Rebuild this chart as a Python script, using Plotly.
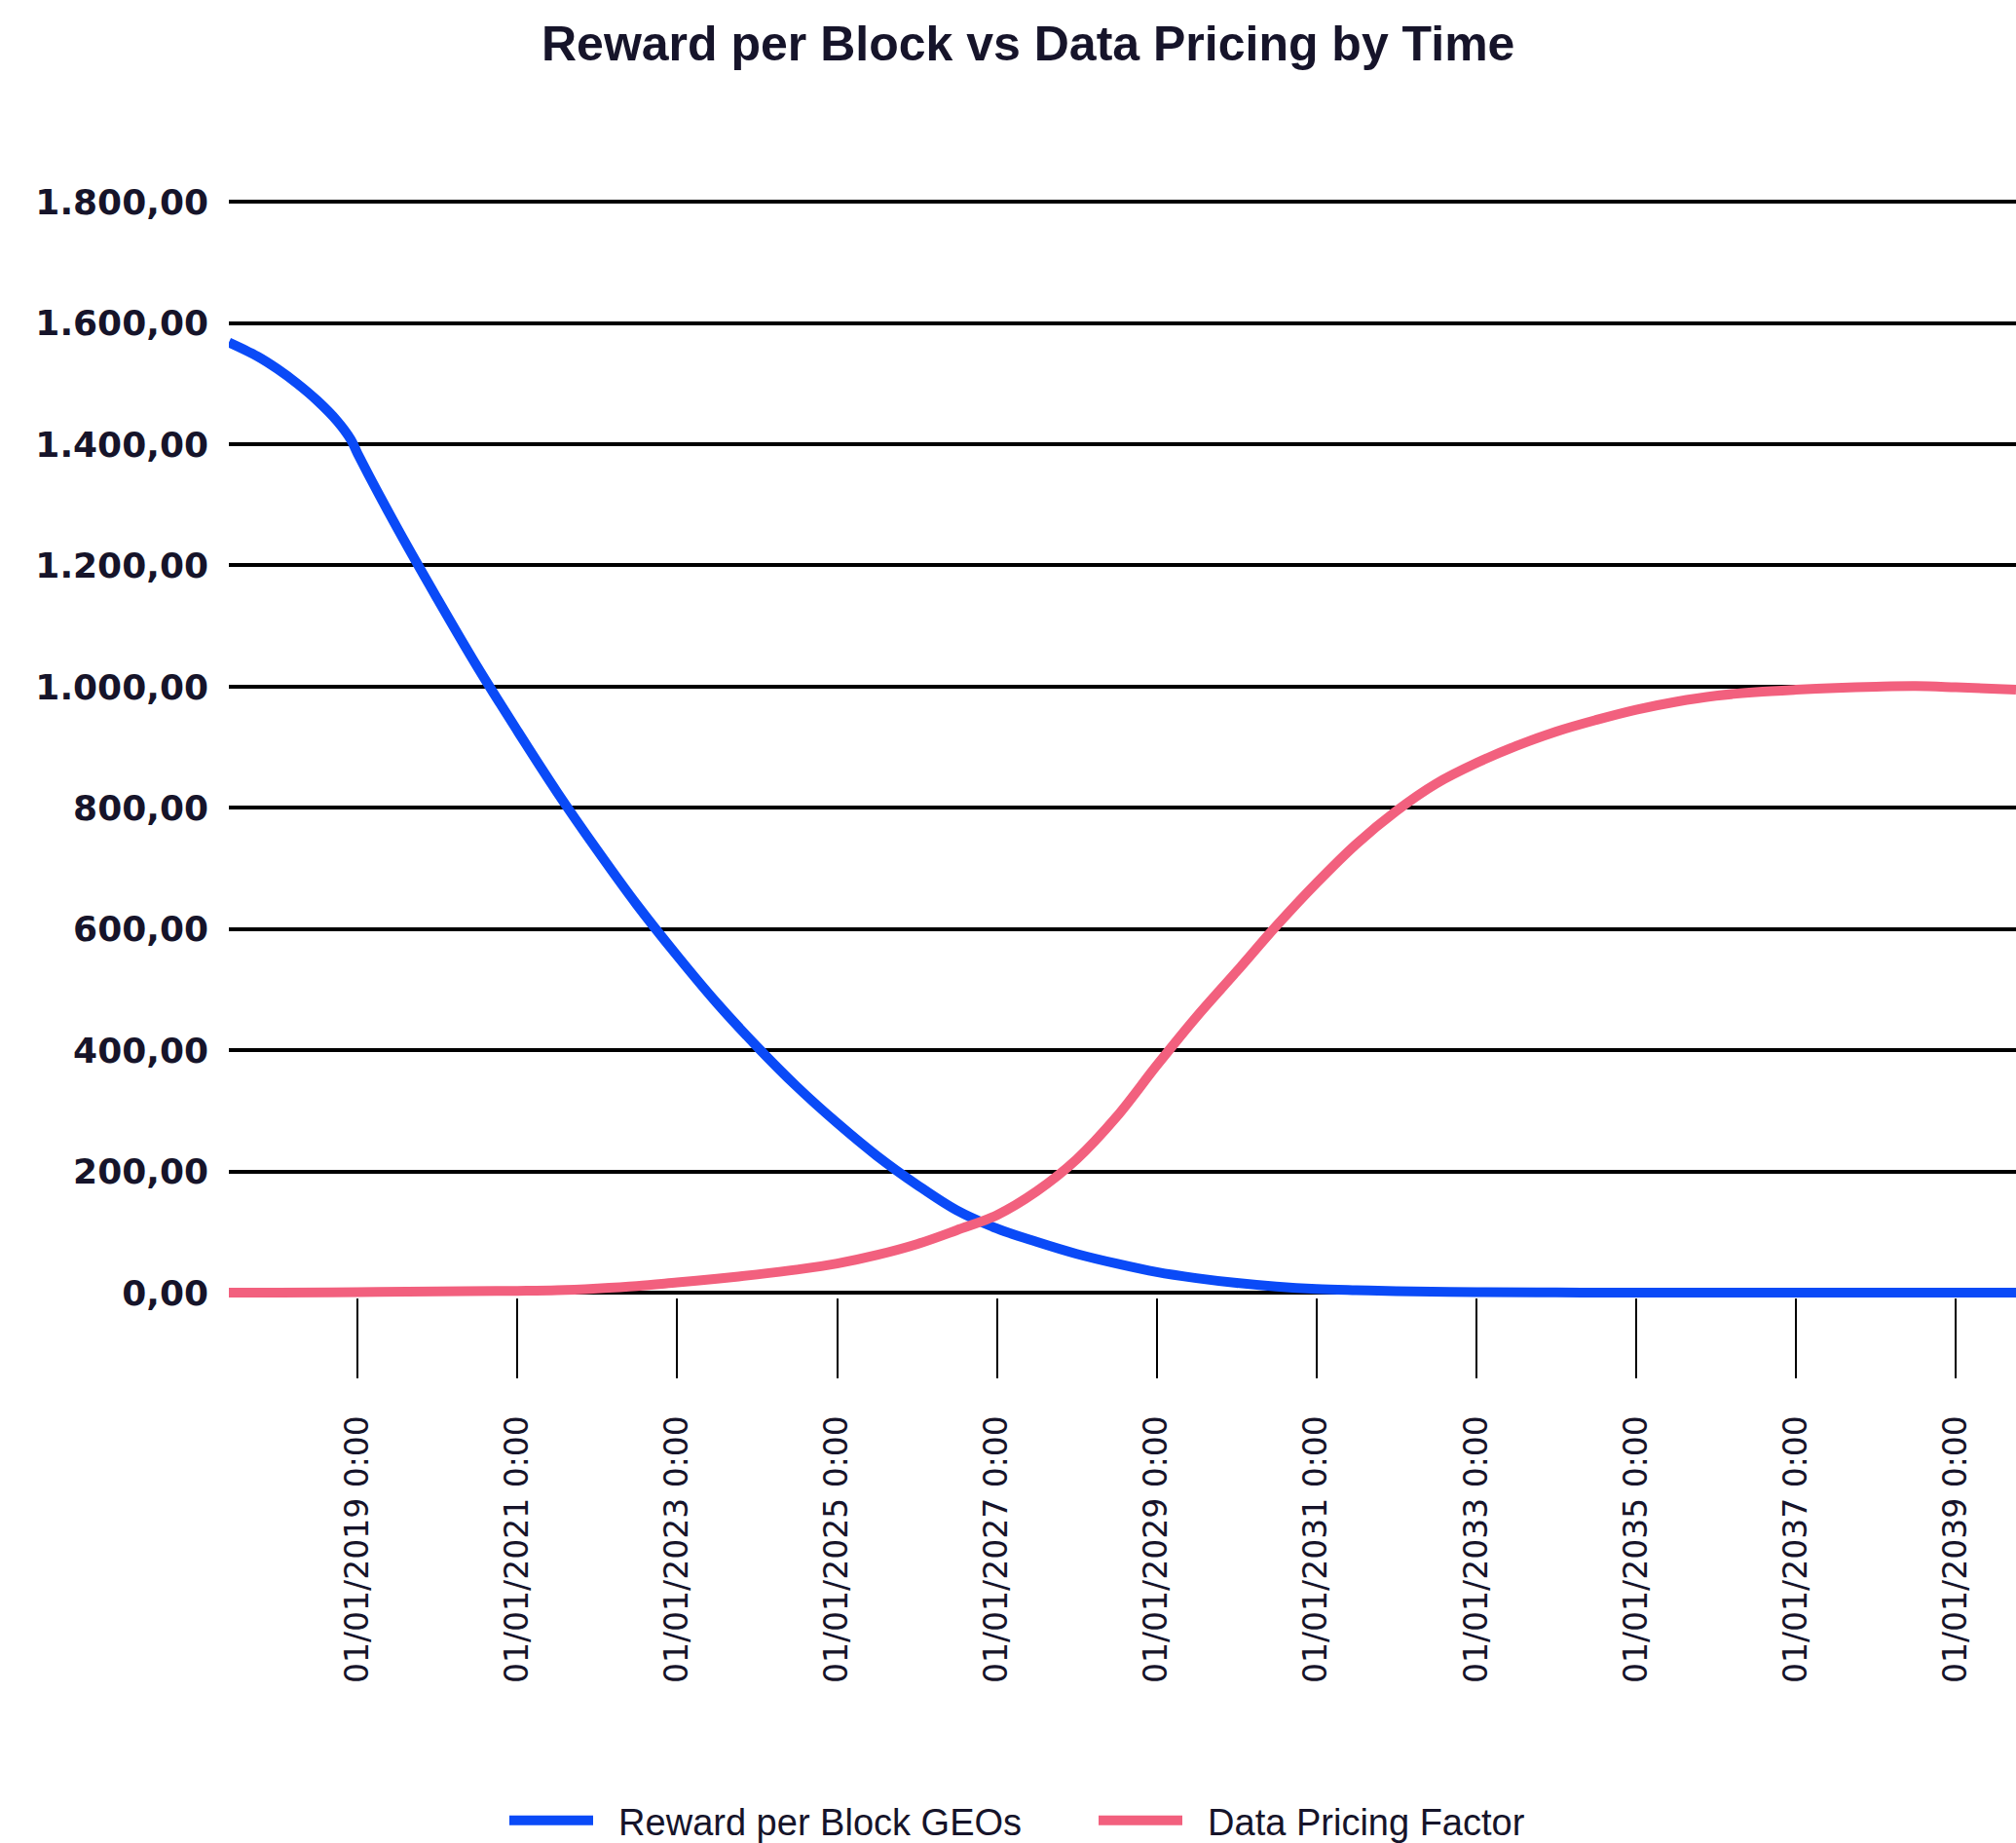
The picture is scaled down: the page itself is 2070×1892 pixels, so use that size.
import plotly.graph_objects as go

# ---- data ----
reward_dates = ["2017-05-23", "2017-10-01", "2018-01-01", "2018-04-01", "2018-07-01",
                "2018-10-01", "2018-12-01", "2019-01-01", "2019-07-01", "2020-01-01",
                "2020-07-01", "2021-01-01", "2021-07-01", "2022-01-01", "2022-07-01",
                "2023-01-01", "2023-07-01", "2024-01-01", "2024-07-01", "2025-01-01",
                "2025-07-01", "2026-01-01", "2026-07-01", "2027-01-01", "2027-07-01",
                "2028-01-01", "2028-07-01", "2029-01-01", "2029-07-01", "2030-01-01",
                "2030-07-01", "2031-01-01", "2031-07-01", "2032-01-01", "2033-01-01",
                "2034-01-01", "2035-01-01", "2037-01-01", "2039-10-03"]
reward_values = [1568, 1545, 1524, 1500, 1472,
                 1438, 1408, 1385, 1262, 1145,
                 1033, 927, 826, 730, 640,
                 556, 478, 406, 340, 280,
                 226, 178, 136, 106, 84,
                 64, 48, 34, 24, 16,
                 10, 6, 4, 2.5, 1,
                 0.3, 0, 0, 0]

pricing_dates = ["2017-05-23", "2018-01-01", "2019-01-01", "2020-01-01", "2021-01-01",
                 "2021-07-01", "2022-01-01", "2022-07-01", "2023-01-01", "2023-07-01",
                 "2024-01-01", "2024-07-01", "2025-01-01", "2025-07-01", "2026-01-01",
                 "2026-07-01", "2027-01-01", "2027-07-01", "2028-01-01", "2028-07-01",
                 "2029-01-01", "2029-07-01", "2030-01-01", "2030-07-01", "2031-01-01",
                 "2031-07-01", "2032-01-01", "2032-07-01", "2033-01-01", "2033-07-01",
                 "2034-01-01", "2034-07-01", "2035-01-01", "2035-07-01", "2036-01-01",
                 "2036-07-01", "2037-01-01", "2037-07-01", "2038-01-01", "2038-07-01",
                 "2039-01-01", "2039-10-03"]
pricing_values = [0, 0, 1, 2, 3,
                  4, 7, 11, 17, 23,
                  30, 38, 48, 62, 80,
                  103, 128, 167, 220, 290,
                  375, 455, 530, 605, 676,
                  740, 795, 840, 874, 902,
                  926, 945, 962, 975, 985,
                  991, 995, 998, 1000, 1001,
                  999, 995]

y_ticks = [0, 200, 400, 600, 800, 1000, 1200, 1400, 1600, 1800]

BLUE = "#0A4AF7"
PINK = "#F2607E"
TEXT = "#16142A"
NB = "\u00a0\u00a0"

fig = go.Figure()
fig.add_trace(go.Scatter(x=reward_dates, y=reward_values, mode="lines",
                         name=NB + "Reward per Block GEOs",
                         line=dict(color=BLUE, width=10, shape="spline", smoothing=1.0)))
fig.add_trace(go.Scatter(x=pricing_dates, y=pricing_values, mode="lines",
                         name=NB + "Data Pricing Factor",
                         line=dict(color=PINK, width=10, shape="spline", smoothing=1.0)))

fig.update_layout(
    width=2070, height=1892, autosize=False,
    margin=dict(l=235, r=0, t=201, b=560),
    paper_bgcolor="white", plot_bgcolor="white",
    separators=",.",
    title=dict(text="<b>Reward per Block vs Data Pricing by Time</b>",
               x=0.51, xanchor="center", xref="container",
               y=1 - 44 / 1892, yanchor="middle", yref="container",
               font=dict(family="Liberation Sans", size=50, color=TEXT)),
    showlegend=True,
    legend=dict(orientation="h", xref="container", yref="container",
                x=518 / 2070, xanchor="left", y=1 - 1869 / 1892, yanchor="middle",
                font=dict(family="Liberation Sans", size=38, color=TEXT),
                itemwidth=86, entrywidth=504, bgcolor="rgba(0,0,0,0)"),
    xaxis=dict(type="date", range=["2017-05-23", "2039-10-03"],
               tick0="2019-01-01", dtick="M24",
               tickformat="%d/%m/%Y %-H:%M", tickangle=-90,
               ticks="outside", ticklen=82, tickwidth=2, tickcolor="black",
               ticklabelstandoff=25,
               showgrid=False, showline=False, zeroline=False,
               tickfont=dict(family="DejaVu Sans", size=33, color=TEXT)),
    yaxis=dict(range=[-8, 1810], tickvals=y_ticks, tickformat=",.2f",
               showgrid=True, gridcolor="black", gridwidth=3.5,
               zeroline=False, showline=False, ticks="",
               ticklabelstandoff=20,
               tickfont=dict(family="DejaVu Sans", size=36, color=TEXT, weight="bold")),
)

fig.write_html("out.html")
